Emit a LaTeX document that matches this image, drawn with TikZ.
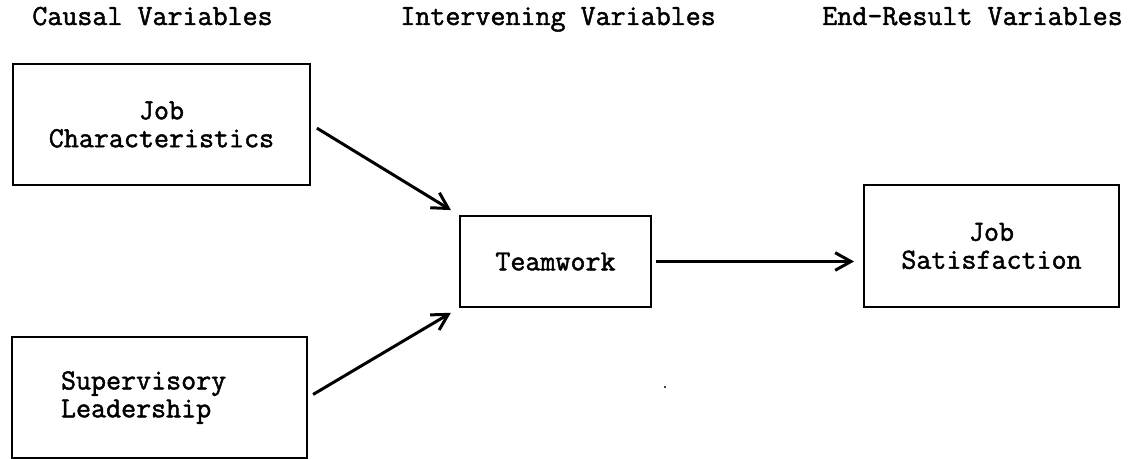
\documentclass[tikz,border=0pt]{standalone}
\usepackage{fontspec}
\setmonofont[FakeBold=1.6]{Latin Modern Mono}
\usepackage{tikz}
\usetikzlibrary{arrows.meta,calc}

\tikzset{
  box/.style={draw,line width=1.1pt,inner sep=0pt,align=center},
  hdr/.style={anchor=base west,inner sep=0pt},
  link/.style={line width=1.7pt,->}
}

\begin{document}
\begin{tikzpicture}[x=0.02cm,y=-0.02cm,>={Straight Barb[length=9pt,width=10pt,line width=1.7pt]},
  font=\ttfamily\fontsize{16.6}{15.9}\selectfont]
  \useasboundingbox (0,0) rectangle (1138,459);
  % column headings
  \node[hdr] (hcause) at (32,25) {Causal Variables};
  \node[hdr] (hinter) at (400,25) {Intervening Variables};
  \node[hdr] (hend) at (822,25) {End-Result Variables};
  % boxes
  \node[box,minimum width=5.94cm,minimum height=2.42cm] (job) at (161.5,124.5) {Job\\Characteristics};
  \node[box,minimum height=2.42cm,text width=3.94cm,inner xsep=0.98cm,align=left] (sup) at (159.5,397.5) {Supervisory\\Leadership};
  \node[box,minimum width=3.82cm,minimum height=1.82cm] (team) at (555.5,261.5) {Teamwork};
  \node[box,minimum width=5.1cm,minimum height=2.44cm] (sat) at (991.5,246) {Job\\Satisfaction};
  % arrows
  \draw[link,shorten <=0.14cm,shorten >=0.19cm] (job.east) -- (team.north west);
  \draw[link,shorten <=0.12cm,shorten >=0.19cm] (sup.east) -- (team.south west);
  \draw[link,shorten <=0.08cm,shorten >=0.18cm] (team.east) -- (team.east -| sat.west);
  \fill (665,387) circle (1.2);
\end{tikzpicture}
\end{document}
